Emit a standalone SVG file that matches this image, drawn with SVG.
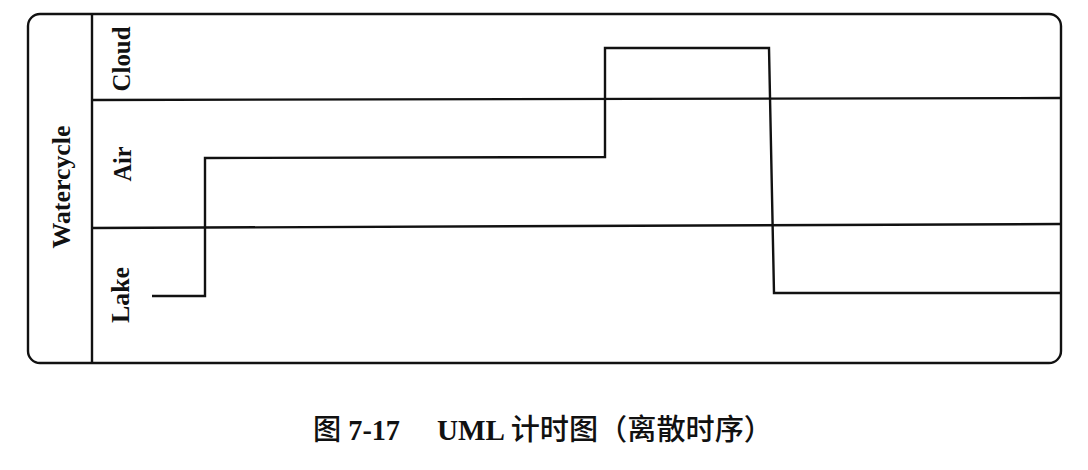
<svg xmlns="http://www.w3.org/2000/svg" width="1088" height="470" viewBox="0 0 1088 470">
<style>
.ln{fill:none;stroke:#111;stroke-width:2.4;stroke-linejoin:miter}
.lb{font-family:"Liberation Serif","Times New Roman",serif;font-size:25px;font-weight:bold;fill:#111}
.cap{font-family:"Liberation Serif","Noto Sans CJK SC",serif;font-size:29px;font-weight:bold;fill:#111}
.cjk{font-weight:500}
</style>
<rect width="1088" height="470" fill="#fff"/>
<g id="frame">
<rect class="ln" x="28" y="14" width="1033" height="349" rx="12"/>
<line class="ln" x1="92" y1="14" x2="92" y2="363"/>
</g>
<g id="lanes">
<line class="ln" x1="92" y1="100" x2="1061" y2="98"/>
<line class="ln" x1="92" y1="228" x2="1061" y2="224"/>
</g>
<g id="watercycle"><text class="lb" transform="translate(70,187) rotate(-90)" text-anchor="middle" textLength="123" lengthAdjust="spacingAndGlyphs">Watercycle</text></g>
<g id="cloud"><text class="lb" transform="translate(130,59) rotate(-90)" text-anchor="middle" textLength="65" lengthAdjust="spacingAndGlyphs">Cloud</text></g>
<g id="air"><text class="lb" transform="translate(131,164) rotate(-90)" text-anchor="middle" textLength="35" lengthAdjust="spacingAndGlyphs">Air</text></g>
<g id="lake"><text class="lb" transform="translate(129,295) rotate(-90)" text-anchor="middle" textLength="56" lengthAdjust="spacingAndGlyphs">Lake</text></g>
<g id="connectors">
<polyline class="ln" points="152,296 205,296 205,158 605,157 605,48 769,48 774,293 1061,293"/>
</g>
<g id="caption">
<text class="cap" x="313" y="440" textLength="87" lengthAdjust="spacingAndGlyphs"><tspan class="cjk">图</tspan> 7-17</text>
<text class="cap" x="437" y="440" textLength="336" lengthAdjust="spacingAndGlyphs">UML <tspan class="cjk">计时图（离散时序）</tspan></text>
</g>
</svg>
